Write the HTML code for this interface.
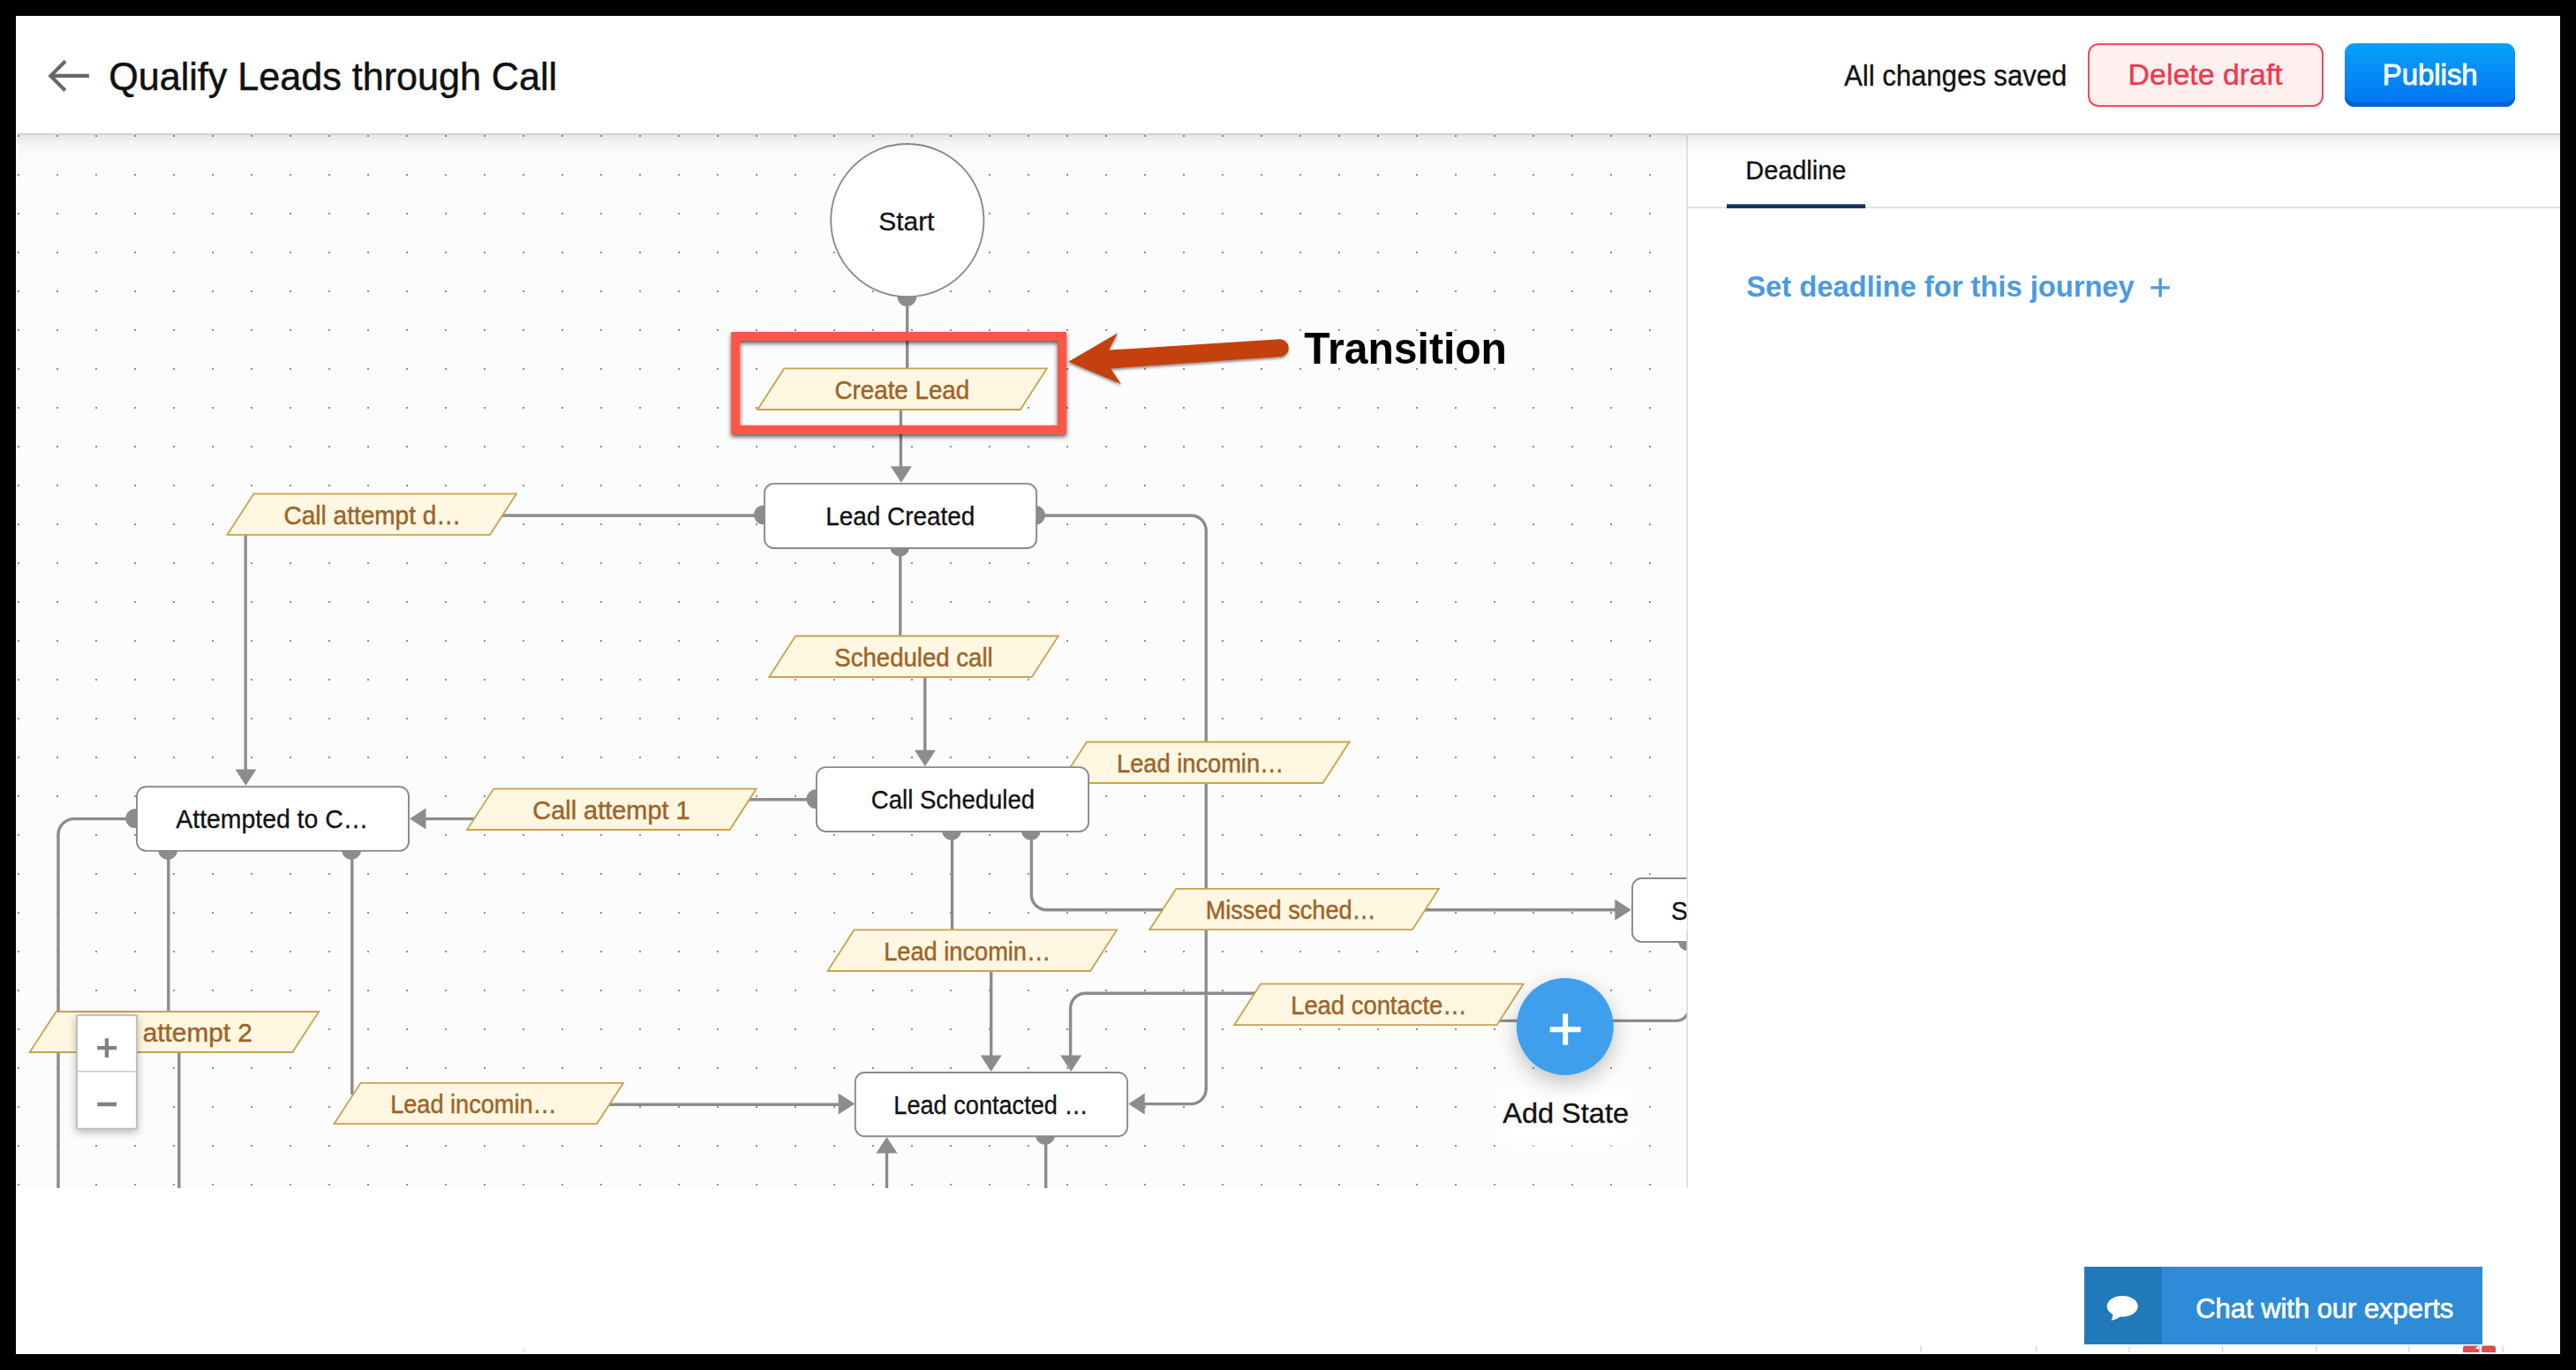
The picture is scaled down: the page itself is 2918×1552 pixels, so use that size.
<!DOCTYPE html>
<html><head><meta charset="utf-8"><title>Qualify Leads through Call</title>
<style>
html,body{margin:0;padding:0;background:#000;}
body{width:2918px;height:1552px;position:relative;overflow:hidden;font-family:"Liberation Sans",sans-serif;}
.abs{position:absolute;}
#app{left:18px;top:18px;width:2882px;height:1516px;background:#fff;}
#hline{left:20px;top:151px;width:2880px;height:2px;background:#d2d2d2;}
#pline{left:1910.4px;top:153px;width:1.6px;height:1193px;background:#dcdcdc;}
#delbtn{left:2365px;top:49px;width:267px;height:72px;box-sizing:border-box;border:2px solid #f54a5c;border-radius:12px;background:#fff0f0;}
#pubbtn{left:2656px;top:49px;width:193px;height:72px;border-radius:11px;background:linear-gradient(#07a1f6,#0174f4);box-shadow:inset 0 -5px 0 #0262d2;}
#tabu{left:1956px;top:230.5px;width:157px;height:5.5px;background:linear-gradient(#2f7fd8 0,#2f7fd8 1.2px,#2b2f3a 1.2px);}
#tabl{left:1912px;top:234px;width:988px;height:1.6px;background:#e4e4e4;}
#chat{left:2360.8px;top:1434.8px;width:451px;height:88.2px;background:#2d8bd8;}
#chatl{left:2360.8px;top:1434.8px;width:87.8px;height:88.2px;background:#2279b9;}
</style></head><body>
<div id="app" class="abs"></div>
<div id="hline" class="abs"></div>
<div id="pline" class="abs"></div>
<div id="delbtn" class="abs"></div>
<div id="pubbtn" class="abs"></div>
<div id="tabl" class="abs"></div>
<div id="tabu" class="abs"></div>
<div id="chat" class="abs"></div>
<div id="chatl" class="abs"></div>
<svg width="2918" height="1552" viewBox="0 0 2918 1552" style="position:absolute;left:0;top:0" font-family="Liberation Sans, sans-serif">
<defs>
<pattern id="dots" x="20" y="153" width="44" height="44" patternUnits="userSpaceOnUse"><rect x="0" y="0" width="2" height="2" fill="#8f8f8f"/></pattern>
<clipPath id="cv"><rect x="20" y="153" width="1890.5" height="1193"/></clipPath>
<linearGradient id="hs" x1="0" y1="0" x2="0" y2="1"><stop offset="0" stop-color="#000" stop-opacity="0.085"/><stop offset="0.35" stop-color="#000" stop-opacity="0.032"/><stop offset="1" stop-color="#000" stop-opacity="0"/></linearGradient>
<filter id="ds" x="-20%" y="-20%" width="140%" height="150%"><feDropShadow dx="0" dy="3" stdDeviation="2.5" flood-color="#000" flood-opacity="0.65"/></filter>
<filter id="as" x="-10%" y="-30%" width="120%" height="170%"><feDropShadow dx="0" dy="2" stdDeviation="1.8" flood-color="#000" flood-opacity="0.45"/></filter>
<filter id="zs" x="-30%" y="-20%" width="160%" height="140%"><feDropShadow dx="0" dy="3" stdDeviation="5" flood-color="#000" flood-opacity="0.28"/></filter>
<filter id="bs" x="-70%" y="-70%" width="240%" height="240%"><feDropShadow dx="0" dy="8" stdDeviation="12" flood-color="#000" flood-opacity="0.24"/></filter>
<filter id="wg" x="-50%" y="-50%" width="200%" height="200%"><feGaussianBlur stdDeviation="9"/></filter>
</defs>
<g clip-path="url(#cv)">
<rect x="20" y="153" width="1891" height="1193" fill="#fcfcfc"/>
<rect x="20" y="153" width="1891" height="1193" fill="url(#dots)"/>
<g fill="none" stroke="#8c8c8c" stroke-width="3.4">
<path d="M1027.7 336 V418"/>
<path d="M1020.4 463 V532"/>
<path d="M865 584 H565"/>
<path d="M278.2 605 V876"/>
<path d="M1019.8 621 V721"/>
<path d="M1047.8 766 V854"/>
<path d="M1174 584 H1349 A17 17 0 0 1 1366.2 601 V1233.6 A17 17 0 0 1 1349.2 1250.6 H1292"/>
<path d="M924 905.8 H846"/>
<path d="M540 927.6 H478"/>
<path d="M154 927.6 H84 A18 18 0 0 0 66 945.6 V1350"/>
<path d="M190.8 964 V1147"/>
<path d="M202.8 1191 V1350"/>
<path d="M398.8 964 V1240"/>
<path d="M688 1251.2 H954"/>
<path d="M1078.5 942 V1054"/>
<path d="M1122.7 1099 V1200"/>
<path d="M1168.4 942 V1013.8 A17 17 0 0 0 1185.4 1030.8 H1320"/>
<path d="M1612 1030.8 H1834"/>
<path d="M1424 1125.2 H1229.6 A17 17 0 0 0 1212.6 1142.2 V1200"/>
<path d="M1694 1156.4 H1898.5 A15 15 0 0 0 1913.5 1141.4 V1100"/>
<path d="M1004.5 1350 V1302"/>
<path d="M1184.7 1287 V1350"/>
</g>
<polygon points="1020.9,546.8 1008.9,528.3 1032.9,528.3" fill="#8c8c8c"/>
<polygon points="278.4,890.0 266.4,871.5 290.4,871.5" fill="#8c8c8c"/>
<polygon points="1047.9,868.2 1035.9,849.7 1059.9,849.7" fill="#8c8c8c"/>
<polygon points="1278.2,1250.6 1296.7,1238.6 1296.7,1262.6" fill="#8c8c8c"/>
<polygon points="464.0,927.4 482.5,915.4 482.5,939.4" fill="#8c8c8c"/>
<polygon points="968.2,1250.6 949.7,1238.6 949.7,1262.6" fill="#8c8c8c"/>
<polygon points="1122.7,1214.0 1110.7,1195.5 1134.7,1195.5" fill="#8c8c8c"/>
<polygon points="1847.8,1030.8 1829.3,1018.8 1829.3,1042.8" fill="#8c8c8c"/>
<polygon points="1213.2,1214.0 1201.2,1195.5 1225.2,1195.5" fill="#8c8c8c"/>
<polygon points="1004.5,1288.0 992.5,1306.5 1016.5,1306.5" fill="#8c8c8c"/>
<circle cx="1027.3" cy="336.0" r="10.9" fill="#8c8c8c"/>
<circle cx="864.9" cy="583.3" r="10.9" fill="#8c8c8c"/>
<circle cx="1173.0" cy="583.6" r="10.9" fill="#8c8c8c"/>
<circle cx="1019.2" cy="619.6" r="10.9" fill="#8c8c8c"/>
<circle cx="153.2" cy="927.2" r="10.9" fill="#8c8c8c"/>
<circle cx="190.1" cy="962.9" r="10.9" fill="#8c8c8c"/>
<circle cx="398.1" cy="962.9" r="10.9" fill="#8c8c8c"/>
<circle cx="924.4" cy="905.2" r="10.9" fill="#8c8c8c"/>
<circle cx="1078.0" cy="940.7" r="10.9" fill="#8c8c8c"/>
<circle cx="1167.8" cy="940.7" r="10.9" fill="#8c8c8c"/>
<circle cx="1184.0" cy="1285.9" r="10.9" fill="#8c8c8c"/>
<circle cx="1911.9" cy="1066.3" r="10.9" fill="#8c8c8c"/>
<circle cx="1027.8" cy="249.6" r="86.6" fill="#fff" stroke="#8a8a8a" stroke-width="1.9"/>
<text transform="translate(995.30 260.80) scale(0.9967 1)" font-size="30" fill="#111" stroke="#111" stroke-width="0.3">Start</text>
<polygon points="888.2,417.4 1185.8,417.4 1155.8,464.0 858.2,464.0" fill="#fff7e1" stroke="#c9a24a" stroke-width="1.8"/>
<text transform="translate(945.57 451.80) scale(0.9562 1)" font-size="29" fill="#9c632a" stroke="#9c632a" stroke-width="0.45">Create Lead</text>
<polygon points="287.4,559.4 585.0,559.4 555.0,605.8 257.4,605.8" fill="#fff7e1" stroke="#c9a24a" stroke-width="1.8"/>
<text transform="translate(321.55 593.70) scale(0.9659 1)" font-size="29" fill="#9c632a" stroke="#9c632a" stroke-width="0.45">Call attempt d…</text>
<polygon points="901.2,720.5 1198.8,720.5 1168.8,767.0 871.2,767.0" fill="#fff7e1" stroke="#c9a24a" stroke-width="1.8"/>
<text transform="translate(945.27 754.85) scale(0.9517 1)" font-size="29" fill="#9c632a" stroke="#9c632a" stroke-width="0.45">Scheduled call</text>
<polygon points="1231.0,840.5 1528.6,840.5 1498.6,887.0 1201.0,887.0" fill="#fff7e1" stroke="#c9a24a" stroke-width="1.8"/>
<text transform="translate(1265.05 874.85) scale(0.9395 1)" font-size="29" fill="#9c632a" stroke="#9c632a" stroke-width="0.45">Lead incomin…</text>
<polygon points="559.1,893.6 856.7,893.6 826.7,940.0 529.1,940.0" fill="#fff7e1" stroke="#c9a24a" stroke-width="1.8"/>
<text transform="translate(603.30 927.90) scale(0.9972 1)" font-size="29" fill="#9c632a" stroke="#9c632a" stroke-width="0.45">Call attempt 1</text>
<polygon points="1332.3,1006.8 1629.9,1006.8 1599.9,1053.2 1302.3,1053.2" fill="#fff7e1" stroke="#c9a24a" stroke-width="1.8"/>
<text transform="translate(1365.66 1041.10) scale(0.9362 1)" font-size="29" fill="#9c632a" stroke="#9c632a" stroke-width="0.45">Missed sched…</text>
<polygon points="967.5,1053.4 1265.1,1053.4 1235.1,1100.0 937.5,1100.0" fill="#fff7e1" stroke="#c9a24a" stroke-width="1.8"/>
<text transform="translate(1001.15 1087.80) scale(0.9385 1)" font-size="29" fill="#9c632a" stroke="#9c632a" stroke-width="0.45">Lead incomin…</text>
<polygon points="1428.1,1114.6 1725.7,1114.6 1695.7,1161.2 1398.1,1161.2" fill="#fff7e1" stroke="#c9a24a" stroke-width="1.8"/>
<text transform="translate(1462.14 1149.00) scale(0.9451 1)" font-size="29" fill="#9c632a" stroke="#9c632a" stroke-width="0.45">Lead contacte…</text>
<polygon points="63.6,1146.0 361.2,1146.0 331.2,1192.0 33.6,1192.0" fill="#fff7e1" stroke="#c9a24a" stroke-width="1.8"/>
<text transform="translate(161.72 1180.10) scale(1.0275 1)" font-size="29" fill="#9c632a" stroke="#9c632a" stroke-width="0.45">attempt 2</text>
<polygon points="408.5,1226.8 706.1,1226.8 676.1,1273.2 378.5,1273.2" fill="#fff7e1" stroke="#c9a24a" stroke-width="1.8"/>
<text transform="translate(442.16 1261.10) scale(0.9359 1)" font-size="29" fill="#9c632a" stroke="#9c632a" stroke-width="0.45">Lead incomin…</text>
<rect x="866.0" y="547.9" width="308.1" height="73.1" rx="10.5" fill="#fff" stroke="#8a8a8a" stroke-width="1.9"/>
<text transform="translate(935.17 595.25) scale(0.9303 1)" font-size="30" fill="#111" stroke="#111" stroke-width="0.3">Lead Created</text>
<rect x="155.0" y="891.3" width="308.0" height="72.6" rx="10.5" fill="#fff" stroke="#8a8a8a" stroke-width="1.9"/>
<text transform="translate(199.36 938.40) scale(0.9466 1)" font-size="30" fill="#111" stroke="#111" stroke-width="0.3">Attempted to C…</text>
<rect x="924.9" y="869.1" width="308.2" height="72.9" rx="10.5" fill="#fff" stroke="#8a8a8a" stroke-width="1.9"/>
<text transform="translate(986.82 916.35) scale(0.9185 1)" font-size="30" fill="#111" stroke="#111" stroke-width="0.3">Call Scheduled</text>
<rect x="968.8" y="1215.0" width="308.3" height="72.2" rx="10.5" fill="#fff" stroke="#8a8a8a" stroke-width="1.9"/>
<text transform="translate(1012.34 1261.90) scale(0.9046 1)" font-size="30" fill="#111" stroke="#111" stroke-width="0.3">Lead contacted …</text>
<rect x="1849.0" y="995.0" width="308.2" height="72.0" rx="10.5" fill="#fff" stroke="#8a8a8a" stroke-width="1.9"/>
<text transform="translate(1892.88 1041.80) scale(0.9466 1)" font-size="30" fill="#111" stroke="#111" stroke-width="0.3">Sc</text>
<rect x="1699" y="1234" width="148" height="62" rx="12" fill="#fff" opacity="0.95" filter="url(#wg)"/>
<circle cx="1772.8" cy="1163" r="55" fill="#3f9fec" filter="url(#bs)"/>
<path d="M1755.8 1166.2 H1790.6 M1773.2 1148.6 V1183.8" stroke="#fff" stroke-width="5.9" fill="none"/>
<text transform="translate(1702.20 1272.30) scale(1.0165 1)" font-size="32" fill="#111" stroke="#111" stroke-width="0.35">Add State</text>
<g filter="url(#zs)"><rect x="87.1" y="1150.2" width="67.8" height="128.5" fill="#fff" stroke="#bebebe" stroke-width="1.9"/></g>
<path d="M87 1213.7 H155" stroke="#cacaca" stroke-width="1.6"/>
<path d="M110.2 1187.2 H132 M120.9 1176.3 V1198.1 M110.2 1251 H132" stroke="#808080" stroke-width="4.3" fill="none"/>
</g>
<rect x="20" y="153" width="2880" height="28" fill="url(#hs)"/>
<rect x="833.2" y="381" width="369.8" height="105.8" fill="none" stroke="#fc574a" stroke-width="10" filter="url(#ds)"/>
<g filter="url(#as)"><path d="M1210.3 409.7 L1266.1 377.3 L1256 396.6 L1449.9 384.2 A10 10 0 0 1 1451.1 404.1 L1258.2 417.4 L1269.9 434.9 Z" fill="#c4400a"/></g>
<text transform="translate(1477.32 411.80) scale(0.9615 1)" font-size="50" font-weight="bold" fill="#000" >Transition</text>
<path d="M100.9 85.9 H58 M74 69.2 L57.3 85.9 L73.8 102.5" fill="none" stroke="#686868" stroke-width="4.1"/>
<text transform="translate(123.26 101.90) scale(0.9684 1)" font-size="44.5" fill="#111" stroke="#111" stroke-width="0.5">Qualify Leads through Call</text>
<text transform="translate(2089.00 96.50) scale(0.9283 1)" font-size="33.5" fill="#111" stroke="#111" stroke-width="0.3">All changes saved</text>
<text transform="translate(2410.62 96.40) scale(1.0115 1)" font-size="33.5" fill="#f0374c" stroke="#f0374c" stroke-width="0.4">Delete draft</text>
<text transform="translate(2698.70 96.40) scale(0.9829 1)" font-size="33.5" fill="#fff" stroke="#fff" stroke-width="0.9">Publish</text>
<text transform="translate(1977.29 203.20) scale(0.9624 1)" font-size="30" fill="#111" stroke="#111" stroke-width="0.3">Deadline</text>
<text transform="translate(1978.24 336.10) scale(0.9614 1)" font-size="34" font-weight="bold" fill="#4a9ae2" >Set deadline for this journey</text>
<path d="M2436.4 325.9 H2457.9 M2447.1 315.2 V336.6" stroke="#4a9ae2" stroke-width="3.4" fill="none"/>
<text transform="translate(2487.30 1492.50) scale(0.9971 1)" font-size="31" fill="#fff" stroke="#fff" stroke-width="0.7">Chat with our experts</text>
<ellipse cx="2404.2" cy="1479.8" rx="17.5" ry="11.9" fill="#fff"/><path d="M2392.8 1486.5 C2393.8 1490 2393.2 1493.4 2391.4 1496 C2396 1495.2 2399.8 1493.4 2402.4 1490.6 Z" fill="#fff"/>
<g stroke="#dcdcdc" stroke-width="1.6"><path d="M2175.8 1524.3 V1532 M2306.6 1524.3 V1532 M2412 1524.3 V1532 M2517.7 1524.3 V1532 M2623.9 1524.3 V1532 M2728.8 1524.3 V1532 M2835 1524.3 V1532 M594 1528 V1532"/></g>
<path d="M2790 1532 V1527 Q2790 1524.5 2792.5 1524.5 H2808.4 V1532 Z M2811.2 1532 V1524.5 H2824.5 Q2827 1524.5 2827 1527 V1532 Z" fill="#e04b4b"/><path d="M2803.5 1527.5 L2808 1524.5 L2808 1528.5 Z" fill="#fff"/>
</svg>
</body></html>
